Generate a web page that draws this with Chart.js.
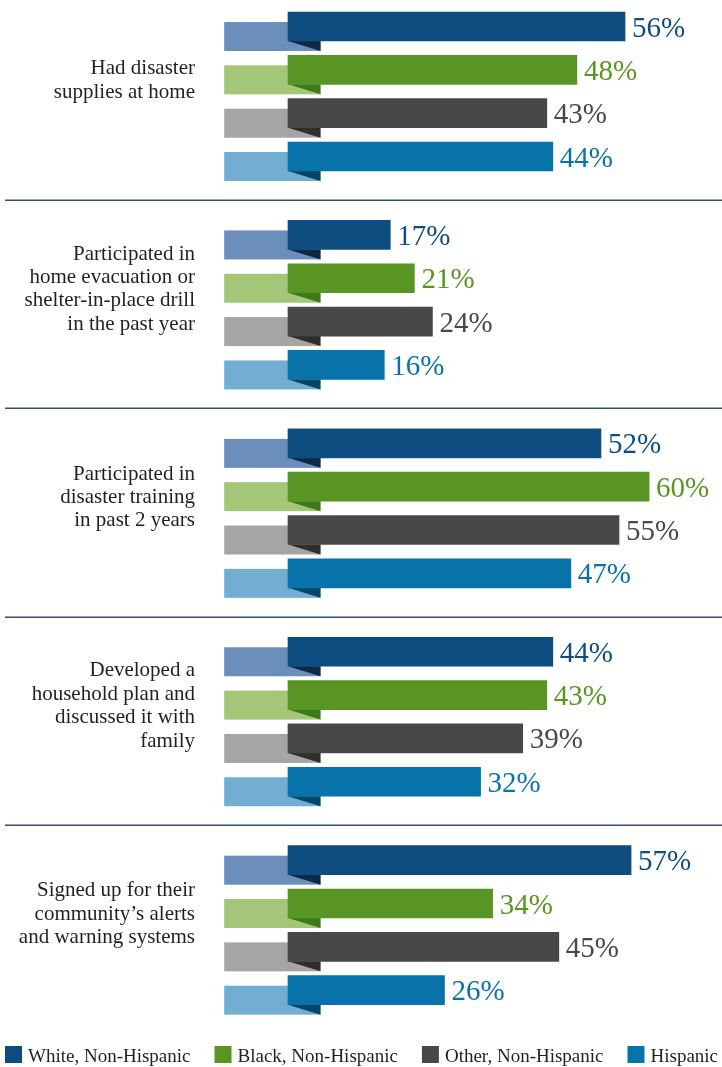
<!DOCTYPE html>
<html>
<head>
  <meta charset="UTF-8">
  <title>Preparedness actions by race and ethnicity</title>
  <script src="https://cdn.jsdelivr.net/npm/chart.js"></script>
  <style>
    html, body { margin: 0; padding: 0; background: #fff; }
    #wrap { width: 722px; height: 1067px; }
  </style>
</head>
<body>
  <div id="wrap"><canvas id="chart"></canvas></div>

  <script>
    // group labels (one array of lines per group)
    const categories = [
      ['Had disaster', 'supplies at home'],
      ['Participated in', 'home evacuation or', 'shelter-in-place drill', 'in the past year'],
      ['Participated in', 'disaster training', 'in past 2 years'],
      ['Developed a', 'household plan and', 'discussed it with', 'family'],
      ['Signed up for their', 'community\u2019s alerts', 'and warning systems']
    ];
    const seriesNames = ['White, Non-Hispanic', 'Black, Non-Hispanic', 'Other, Non-Hispanic', 'Hispanic'];
    const whiteNH  = [56, 17, 52, 44, 57];
    const blackNH  = [48, 21, 60, 43, 34];
    const otherNH  = [43, 24, 55, 39, 45];
    const hispanic = [44, 16, 47, 32, 26];
    const series = [whiteNH, blackNH, otherNH, hispanic];

    const mainColors = ['#0f4d81', '#589523', '#484848', '#0773a9'];
    const tabColors  = ['#6b8fba', '#a3c678', '#a5a5a5', '#72aed2'];
    const foldColors = ['#0a2a45', '#3e7a1c', '#2e2e2e', '#044466'];
    const lineColor = '#34506a';
    const textColor = '#231f20';
    const SERIF = '"Liberation Serif", "Times New Roman", serif';

    // layout in axis units: one bar row = 1, one group = GROUP_STEP rows
    const GROUP_STEP = 4.81;
    const LABEL_SHIFT = 1.25;
    const SEP_SHIFT = 4.0;
    const TAB_FROM = -10.6, TAB_TO = 5.4, TAB_DROP = 10;
    const LABEL_RIGHT = 195, LINE_H = 23.4;

    const datasets = series.map((vals, k) => ({
      label: seriesNames[k],
      data: vals.map((v, g) => ({ x: v, y: g * GROUP_STEP + k })),
      backgroundColor: mainColors[k],
      borderWidth: 0,
      barThickness: 29,
      grouped: false
    }));

    const ribbon = {
      id: 'ribbon',
      beforeDatasetsDraw(chart) {
        const ctx = chart.ctx, xs = chart.scales.x;
        const left = xs.getPixelForValue(TAB_FROM), right = xs.getPixelForValue(TAB_TO);
        chart.data.datasets.forEach((ds, k) => {
          chart.getDatasetMeta(k).data.forEach(bar => {
            const top = bar.y - bar.height / 2, bottom = bar.y + bar.height / 2;
            ctx.fillStyle = tabColors[k];
            ctx.fillRect(left, top + TAB_DROP, right - left, bar.height);
            ctx.fillStyle = foldColors[k];
            ctx.beginPath();
            ctx.moveTo(bar.base, bottom);
            ctx.lineTo(right, bottom);
            ctx.lineTo(right, bottom + TAB_DROP);
            ctx.closePath();
            ctx.fill();
          });
        });
      },
      afterDatasetsDraw(chart) {
        const ctx = chart.ctx;
        ctx.save();
        ctx.font = '29px ' + SERIF;
        ctx.textAlign = 'left';
        ctx.textBaseline = 'alphabetic';
        chart.data.datasets.forEach((ds, k) => {
          chart.getDatasetMeta(k).data.forEach((bar, i) => {
            ctx.fillStyle = mainColors[k];
            ctx.fillText(series[k][i] + '%', bar.x + 7, bar.y + 10);
          });
        });
        ctx.restore();
      },
      afterDraw(chart) {
        const ctx = chart.ctx, ys = chart.scales.y;
        ctx.save();
        // group labels, right aligned and centred on the group
        ctx.font = '21px ' + SERIF;
        ctx.fillStyle = textColor;
        ctx.textAlign = 'right';
        ctx.textBaseline = 'middle';
        categories.forEach((lines, g) => {
          const cy = ys.getPixelForValue(g * GROUP_STEP + LABEL_SHIFT);
          lines.forEach((line, j) => {
            ctx.fillText(line, LABEL_RIGHT, cy + (j - (lines.length - 1) / 2) * LINE_H);
          });
        });
        // separators between groups
        ctx.strokeStyle = lineColor;
        ctx.lineWidth = 1.5;
        for (let g = 0; g < categories.length - 1; g++) {
          const y = Math.round(ys.getPixelForValue(g * GROUP_STEP + SEP_SHIFT)) + 0.25;
          ctx.beginPath();
          ctx.moveTo(5, y);
          ctx.lineTo(chart.width, y);
          ctx.stroke();
        }
        // legend row
        ctx.font = '19px ' + SERIF;
        ctx.textAlign = 'left';
        ctx.textBaseline = 'alphabetic';
        let x = 5;
        const top = chart.chartArea.bottom + 28;
        seriesNames.forEach((name, k) => {
          ctx.fillStyle = mainColors[k];
          ctx.fillRect(x, top, 17, 17);
          ctx.fillStyle = textColor;
          ctx.fillText(name, x + 23, top + 16);
          x += 23 + ctx.measureText(name).width + 24;
        });
        ctx.restore();
      }
    };

    new Chart(document.getElementById('chart'), {
      type: 'bar',
      data: { datasets },
      options: {
        indexAxis: 'y',
        responsive: true,
        maintainAspectRatio: false,
        animation: false,
        layout: { padding: { bottom: 49 } },
        plugins: { legend: { display: false }, tooltip: { enabled: false } },
        scales: {
          x: { type: 'linear', min: -47.85, max: 72.11, offset: false, display: false },
          y: { type: 'linear', reverse: true, min: -0.612, max: 22.882, offset: false, display: false }
        }
      },
      plugins: [ribbon]
    });
  </script>
</body>
</html>
